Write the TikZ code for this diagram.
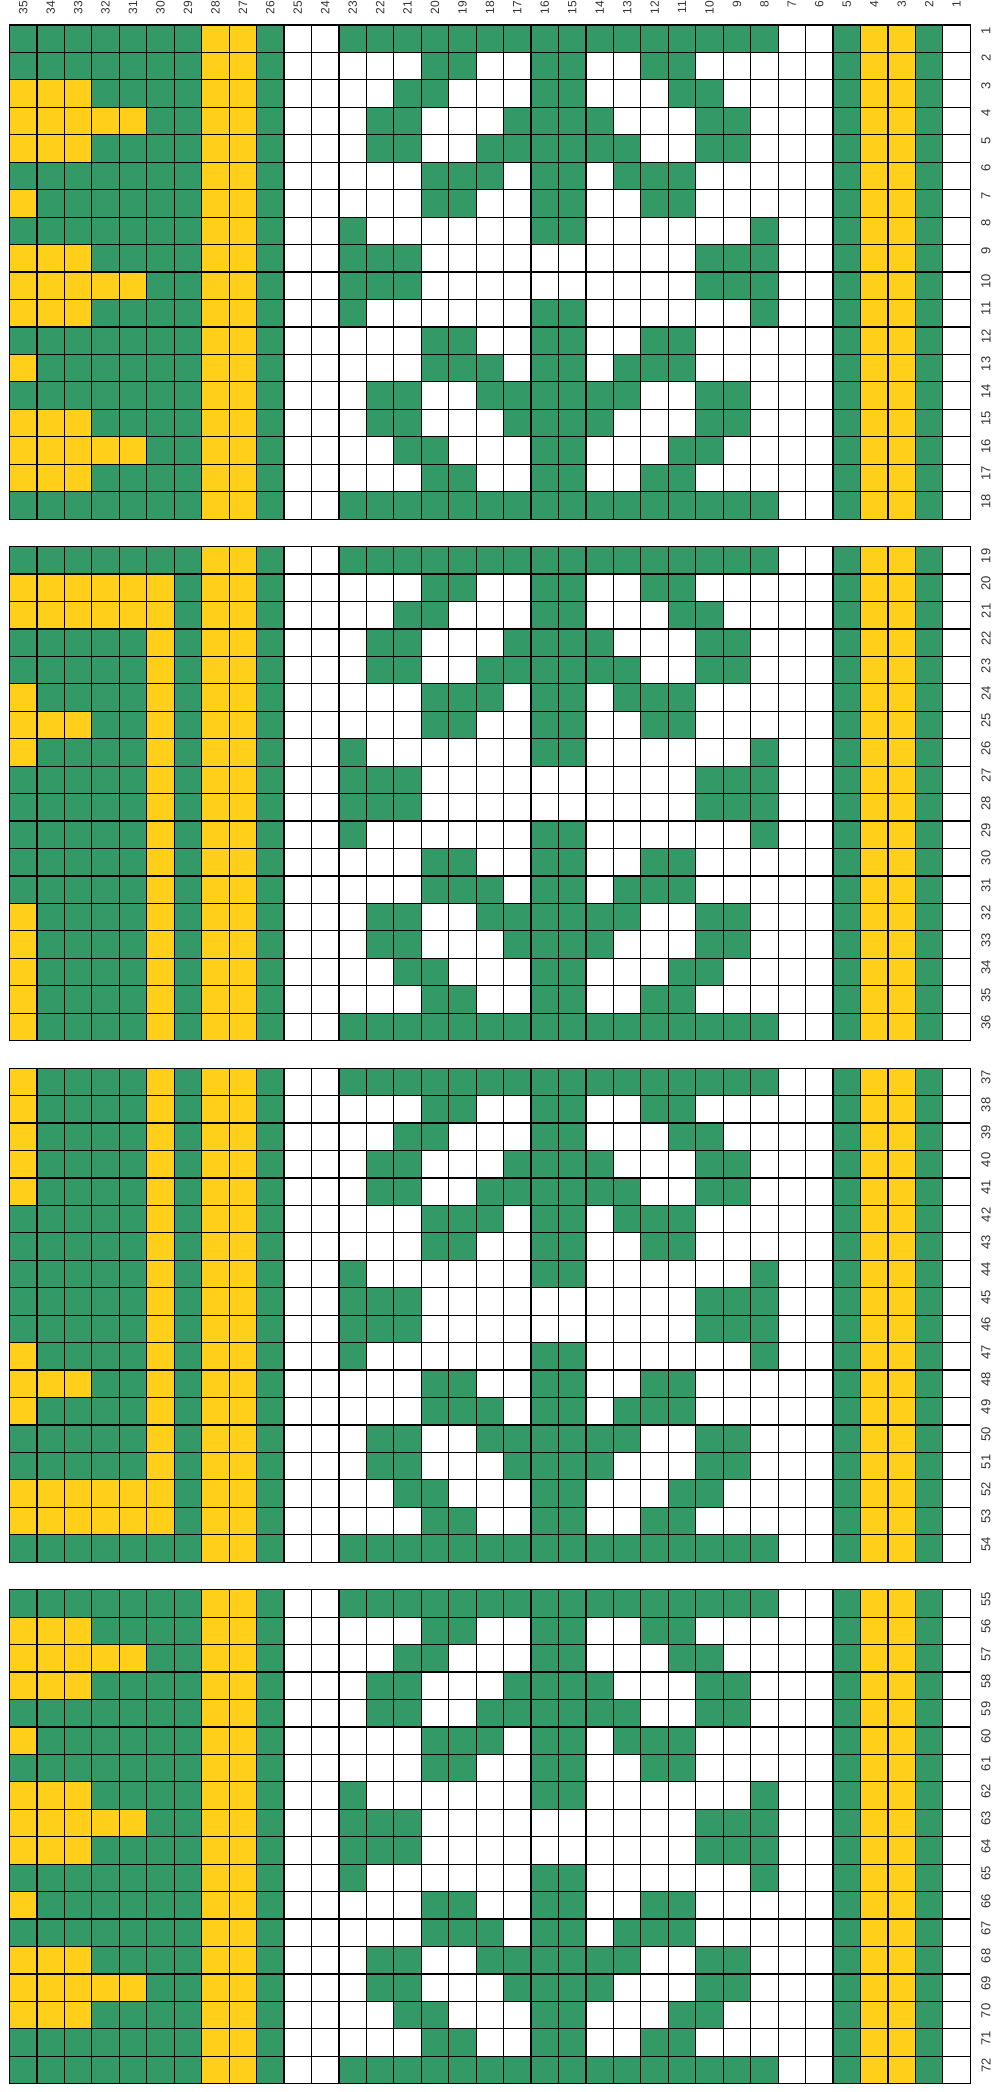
\documentclass[tikz,border=0pt]{standalone}
\usepackage{fontspec}
\newfontfamily\labfont{Liberation Sans}
\definecolor{kgreen}{HTML}{339966}
\definecolor{kyellow}{HTML}{FFCF1A}
\definecolor{klab}{HTML}{333333}
% cell fill: colour, column label (1..35), global row (1..72)
\newcommand{\kcell}[3]{%
  \pgfmathtruncatemacro{\kb}{int(((#3)-1)/18)}%
  \pgfmathsetmacro{\kx}{9.5+(35-(#2))*27.45}%
  \pgfmathsetmacro{\ky}{25+((#3)-1+\kb)*27.45}%
  \fill[#1] (\kx,\ky) rectangle ++(27.45,27.45);}
% band fill within current block: colour, high column, low column
\newcommand{\kband}[3]{%
  \fill[#1] ({9.5+(35-#2)*27.45},\ty) rectangle ({9.5+(36-#3)*27.45},\by);}
\begin{document}
\begin{tikzpicture}[x=1pt,y=-1pt,
  toplab/.style={rotate=90,anchor=east,inner sep=0pt,font=\labfont\fontsize{12}{12}\selectfont,text=klab},
  rightlab/.style={rotate=90,anchor=east,inner sep=0pt,font=\labfont\fontsize{13}{13}\selectfont,text=klab},
  gridline/.style={draw=black,line width=1.2pt,line cap=rect}]
\useasboundingbox (0,0) rectangle (995,2092);
\fill[white] (0,0) rectangle (995,2092);

% ---- bands and snowflake motif, per block
\foreach \b in {0,...,3}{
  \pgfmathsetmacro{\ty}{25+19*\b*27.45}
  \pgfmathsetmacro{\by}{\ty+18*27.45}
  \kband{kgreen}{35}{29}
  \kband{kyellow}{28}{27}
  \kband{kgreen}{26}{26}
  \kband{kgreen}{5}{5}
  \kband{kyellow}{4}{3}
  \kband{kgreen}{2}{2}
  \foreach \r/\cl in {1/{8,...,23},
      2/{11,12,15,16,19,20},
      3/{10,11,15,16,20,21},
      4/{9,10,14,15,16,17,21,22},
      5/{9,10,13,14,15,16,17,18,21,22},
      6/{11,12,13,15,16,18,19,20},
      7/{11,12,15,16,19,20},
      8/{8,15,16,23},
      9/{8,9,10,21,22,23},
      10/{8,9,10,21,22,23},
      11/{8,15,16,23},
      12/{11,12,15,16,19,20},
      13/{11,12,13,15,16,18,19,20},
      14/{9,10,13,14,15,16,17,18,21,22},
      15/{9,10,14,15,16,17,21,22},
      16/{10,11,15,16,20,21},
      17/{11,12,15,16,19,20},
      18/{8,...,23}}{
    \foreach \c in \cl {\kcell{kgreen}{\c}{18*\b+\r}}
  }
}

% ---- border pattern (columns 30-35), yellow cells
\foreach \R/\cl in {3/{33,34,35},4/{31,32,33,34,35},5/{33,34,35},7/{35},
    9/{33,34,35},10/{31,32,33,34,35},11/{33,34,35},13/{35},
    15/{33,34,35},16/{31,32,33,34,35},17/{33,34,35},
    20/{31,32,33,34,35},21/{31,32,33,34,35},24/{35},25/{33,34,35},26/{35},
    32/{35},33/{35},34/{35},35/{35},36/{35},
    37/{35},38/{35},39/{35},40/{35},41/{35},47/{35},48/{33,34,35},49/{35},
    52/{31,32,33,34,35},53/{31,32,33,34,35},
    56/{33,34,35},57/{31,32,33,34,35},58/{33,34,35},60/{35},
    62/{33,34,35},63/{31,32,33,34,35},64/{33,34,35},66/{35},
    68/{33,34,35},69/{31,32,33,34,35},70/{33,34,35}}{
  \foreach \c in \cl {\kcell{kyellow}{\c}{\R}}
}
\foreach \R in {20,...,53}{\kcell{kyellow}{30}{\R}}

% ---- grid lines
\foreach \b in {0,...,3}{
  \pgfmathsetmacro{\ty}{25+19*\b*27.45}
  \pgfmathsetmacro{\by}{\ty+18*27.45}
  \foreach \k in {0,...,35}{
    \draw[gridline] ({9.5+\k*27.45},\ty) -- ({9.5+\k*27.45},\by);
  }
  \foreach \j in {0,...,18}{
    \draw[gridline] (9.5,{\ty+\j*27.45}) -- (970.25,{\ty+\j*27.45});
  }
}

% ---- labels
\foreach \c in {1,...,35}{
  \node[toplab] (t\c) at ({9.5+(35.5-\c)*27.45},0.5) {\c};
}
\foreach \R in {1,...,72}{
  \pgfmathtruncatemacro{\rb}{int((\R-1)/18)}
  \pgfmathsetmacro{\ry}{25+(\R-1+\rb)*27.45+2}
  \node[rightlab] (r\R) at (986,\ry) {\R};
}
\end{tikzpicture}
\end{document}
